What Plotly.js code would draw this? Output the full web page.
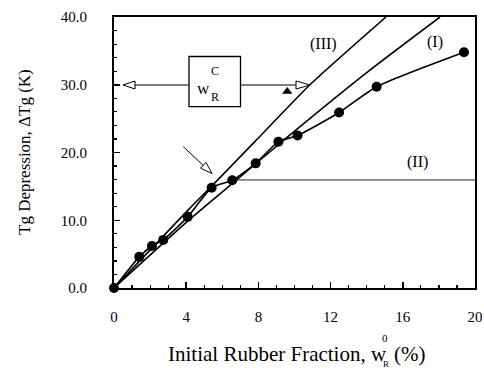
<!DOCTYPE html>
<html>
<head>
<meta charset="utf-8">
<script src="https://cdn.plot.ly/plotly-3.0.1.min.js"></script>
<style>html,body{margin:0;padding:0;background:#fff;}#chart{width:484px;height:369px;}</style>
</head>
<body>
<div id="chart"></div>
<script>
// Measured data points (initial rubber fraction %, Tg depression K)
var wR0 = [0, 1.40, 2.10, 2.73, 4.08, 5.41, 6.55, 7.85, 9.11, 10.17, 12.47, 14.55, 19.39];
var dTg = [0, 4.6, 6.2, 7.1, 10.5, 14.8, 15.9, 18.4, 21.6, 22.5, 25.9, 29.7, 34.8];

// Curve (I)
var curveI_x = [0, 4.1, 6.55, 9.75, 14.0, 18.06];
var curveI_y = [0, 9.9, 15.4, 22.6, 31.8, 40.0];

// Curve (III)
var curveIII_x = [0, 4.1, 5.4, 7.8, 10.86, 15.07];
var curveIII_y = [0, 11.5, 15.0, 21.6, 30.0, 40.0];

// Plateau (II)
var lineII_x = [6.55, 20];
var lineII_y = [15.95, 15.95];

// Single triangle point
var tri_x = [9.6];
var tri_y = [29.0];

// Axis ticks
var xTicks = [0, 4, 8, 12, 16, 20];
var yTicks = [0, 10, 20, 30, 40];

var FONT = "'Liberation Serif', 'Times New Roman', serif";

var traces = [
  {x: curveIII_x, y: curveIII_y, mode: 'lines', line: {color: '#000', width: 1.6, shape: 'spline', smoothing: 0.6}, hoverinfo: 'skip'},
  {x: curveI_x, y: curveI_y, mode: 'lines', line: {color: '#000', width: 1.6, shape: 'spline', smoothing: 0.6}, hoverinfo: 'skip'},
  {x: lineII_x, y: lineII_y, mode: 'lines', line: {color: '#222', width: 1}, hoverinfo: 'skip'},
  {x: wR0, y: dTg, mode: 'lines+markers', line: {color: '#000', width: 1.6, shape: 'spline', smoothing: 0.6},
   marker: {color: '#000', size: 10, symbol: 'circle'}, cliponaxis: false},
  {x: tri_x, y: tri_y, mode: 'markers', marker: {color: '#000', size: 9, symbol: 'triangle-up'}}
];

// plot area geometry (pixels)
var L = 114, R = 475, T = 17, B = 288;
function px(x) { return (x - L) / (R - L); }
function py(y) { return (B - y) / (B - T); }

// open arrowhead path in pixel units (y up), tip at anchor, direction (dx,dy) in screen px (y down)
function headPath(dx, dy, len, half) {
  var n = Math.sqrt(dx*dx + dy*dy);
  var ux = dx / n, uy = -dy / n; // to y-up
  var bx = -ux * len, by = -uy * len;
  var nx = -uy, ny = ux;
  return 'M0,0 L' + (bx + nx*half).toFixed(2) + ',' + (by + ny*half).toFixed(2) +
         ' L' + (bx - nx*half).toFixed(2) + ',' + (by - ny*half).toFixed(2) + ' Z';
}

var shapes = [
  // box around w_R^C
  {type: 'rect', xref: 'paper', yref: 'paper', x0: px(189), x1: px(240.5), y0: py(106.7), y1: py(56.5),
   line: {color: '#000', width: 1.3}, fillcolor: 'rgba(0,0,0,0)'},
  // left arrow line
  {type: 'line', xref: 'paper', yref: 'paper', x0: px(189), x1: px(134), y0: py(85), y1: py(85), line: {color: '#000', width: 1}},
  {type: 'path', xref: 'x', yref: 'y', xsizemode: 'pixel', ysizemode: 'pixel', xanchor: (123 - L) / 18.05, yanchor: (B - 85) / 6.775,
   path: headPath(-1, 0, 12, 4), line: {color: '#000', width: 1}, fillcolor: '#fff'},
  // right arrow line
  {type: 'line', xref: 'paper', yref: 'paper', x0: px(240.5), x1: px(296), y0: py(85), y1: py(85), line: {color: '#000', width: 1}},
  {type: 'path', xref: 'x', yref: 'y', xsizemode: 'pixel', ysizemode: 'pixel', xanchor: (310 - L) / 18.05, yanchor: (B - 85) / 6.775,
   path: headPath(1, 0, 14, 4), line: {color: '#000', width: 1}, fillcolor: '#fff'},
  // diagonal arrow
  {type: 'line', xref: 'paper', yref: 'paper', x0: px(183.3), x1: px(203.5), y0: py(146.7), y1: py(165.6), line: {color: '#000', width: 1}},
  {type: 'path', xref: 'x', yref: 'y', xsizemode: 'pixel', ysizemode: 'pixel', xanchor: (212 - L) / 18.05, yanchor: (B - 173.5) / 6.775,
   path: headPath(28.4, 26.6, 12, 4), line: {color: '#000', width: 1}, fillcolor: '#fff'}
];

function ann(text, x, y, size, xanchor, extra) {
  var a = {text: text, xref: 'paper', yref: 'paper', x: px(x), y: py(y), showarrow: false,
           xanchor: xanchor || 'center', yanchor: 'middle', font: {family: FONT, size: size, color: '#000'}};
  if (extra) for (var k in extra) a[k] = extra[k];
  return a;
}

var annotations = [
  ann('w', 203, 88, 17),
  ann('C', 214.5, 71, 12),
  ann('R', 214.5, 97, 12),
  ann('(III)', 323, 44, 16),
  ann('(I)', 435, 42, 16),
  ann('(II)', 417, 162, 16),
  ann('Tg Depression, \u0394Tg (K)', 24, 152, 17, 'center', {textangle: -90}),
  ann('Initial Rubber Fraction, w', 389, 354, 21, 'right'),
  ann('0', 385, 338, 11),
  ann('R', 386, 364, 9),
  ann('(%)', 392, 354, 21, 'left')
];

var layout = {
  width: 484, height: 369,
  margin: {l: L, r: 484 - R, t: T, b: 369 - B},
  paper_bgcolor: '#fff', plot_bgcolor: '#fff',
  showlegend: false,
  font: {family: FONT, size: 15, color: '#000'},
  xaxis: {range: [0, 20], tickvals: xTicks, ticktext: xTicks.map(String), ticks: 'inside', ticklen: 6, tickwidth: 1.5,
          tickcolor: '#000', showline: true, linewidth: 2, linecolor: '#000', mirror: true, showgrid: false, zeroline: false,
          minor: {dtick: 1, ticks: 'inside', ticklen: 3, tickwidth: 1.2, tickcolor: '#000', showgrid: false},
          tickfont: {family: FONT, size: 15}, ticklabelstandoff: 14, fixedrange: true},
  yaxis: {range: [0, 40], tickvals: yTicks, ticktext: yTicks.map(function(v){return v.toFixed(1);}), ticks: 'inside', ticklen: 6, tickwidth: 1.5,
          tickcolor: '#000', showline: true, linewidth: 2, linecolor: '#000', mirror: true, showgrid: false, zeroline: false,
          minor: {dtick: 2, ticks: 'inside', ticklen: 3, tickwidth: 1.2, tickcolor: '#000', showgrid: false},
          tickfont: {family: FONT, size: 15}, ticklabelstandoff: 22, fixedrange: true},
  shapes: shapes,
  annotations: annotations
};

Plotly.newPlot('chart', traces, layout, {displayModeBar: false, staticPlot: true});
</script>
</body>
</html>
